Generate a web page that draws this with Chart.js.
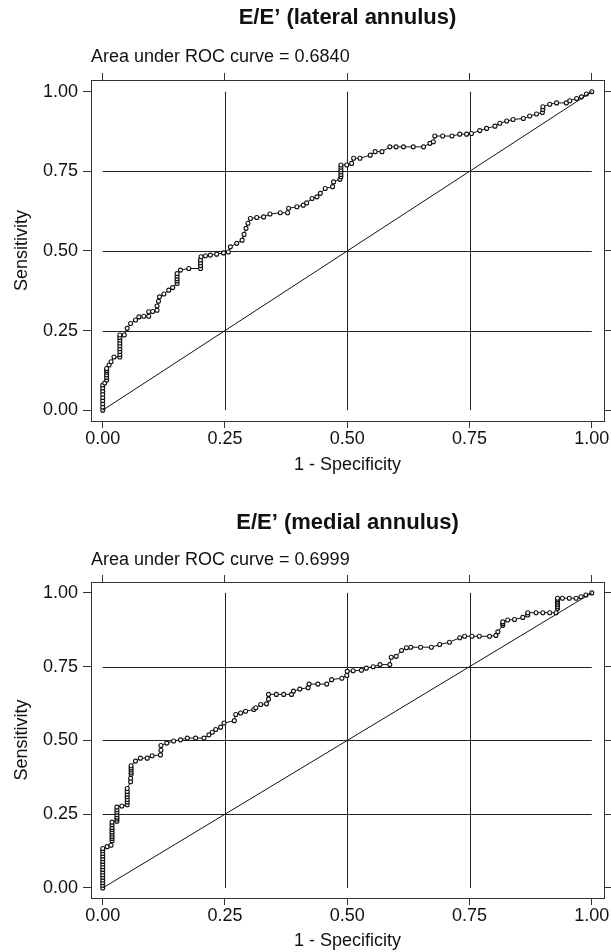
<!DOCTYPE html>
<html>
<head>
<meta charset="utf-8">
<script src="https://cdn.jsdelivr.net/npm/chart.js@4.4.1/dist/chart.umd.min.js"></script>
<style>
  html, body { margin: 0; padding: 0; background: #fff; overflow: hidden; }
  .box { position: absolute; left: 0; width: 611px; }
</style>
</head>
<body>
<div class="box" style="top:0;height:502px"><canvas id="rocLateral" width="611" height="502"></canvas></div>
<div class="box" style="top:502px;height:450px"><canvas id="rocMedial" width="611" height="450"></canvas></div>
<script>
// axis ticks and inner reference lines
const tickVals = [0, 0.25, 0.5, 0.75, 1];
const gridVals = [0.25, 0.5, 0.75];

// E/E' lateral annulus: 1 - specificity / sensitivity
const latFpr = [0, 0, 0, 0, 0, 0, 0, 0, 0, 0.004,
    0.008, 0.008, 0.008, 0.008, 0.008, 0.008, 0.013, 0.017, 0.023, 0.035,
    0.035, 0.035, 0.035, 0.035, 0.035, 0.035, 0.035, 0.035, 0.044, 0.05,
    0.057, 0.067, 0.074, 0.084, 0.094, 0.094, 0.102, 0.111, 0.111, 0.114,
    0.116, 0.125, 0.135, 0.143, 0.152, 0.152, 0.152, 0.152, 0.152, 0.159,
    0.176, 0.2, 0.2, 0.2, 0.2, 0.201, 0.21, 0.22, 0.233, 0.247,
    0.257, 0.261, 0.274, 0.285, 0.289, 0.293, 0.297, 0.302, 0.315, 0.329,
    0.342, 0.363, 0.378, 0.38, 0.397, 0.41, 0.417, 0.428, 0.438, 0.445,
    0.455, 0.47, 0.472, 0.485, 0.487, 0.487, 0.487, 0.487, 0.487, 0.487,
    0.499, 0.509, 0.513, 0.526, 0.547, 0.557, 0.571, 0.587, 0.6, 0.615,
    0.635, 0.656, 0.669, 0.676, 0.679, 0.695, 0.714, 0.73, 0.744, 0.754,
    0.771, 0.785, 0.802, 0.812, 0.826, 0.839, 0.86, 0.873, 0.887, 0.899,
    0.9, 0.9, 0.914, 0.928, 0.948, 0.955, 0.969, 0.979, 0.989, 1];
const latTpr = [0, 0.01, 0.02, 0.03, 0.04, 0.05, 0.06, 0.07, 0.079, 0.085,
    0.095, 0.103, 0.111, 0.119, 0.125, 0.131, 0.142, 0.152, 0.167, 0.167,
    0.175, 0.184, 0.193, 0.202, 0.211, 0.22, 0.228, 0.236, 0.236, 0.257,
    0.272, 0.283, 0.293, 0.295, 0.295, 0.309, 0.31, 0.314, 0.327, 0.342,
    0.356, 0.365, 0.377, 0.385, 0.398, 0.406, 0.413, 0.421, 0.429, 0.44,
    0.445, 0.445, 0.454, 0.463, 0.472, 0.482, 0.485, 0.487, 0.49, 0.494,
    0.497, 0.513, 0.524, 0.534, 0.552, 0.571, 0.587, 0.602, 0.605, 0.607,
    0.616, 0.62, 0.62, 0.634, 0.639, 0.644, 0.651, 0.665, 0.67, 0.681,
    0.696, 0.702, 0.717, 0.725, 0.733, 0.74, 0.748, 0.755, 0.763, 0.77,
    0.77, 0.775, 0.791, 0.791, 0.801, 0.812, 0.812, 0.827, 0.827, 0.827,
    0.827, 0.827, 0.838, 0.843, 0.861, 0.861, 0.861, 0.867, 0.867, 0.869,
    0.878, 0.885, 0.892, 0.901, 0.908, 0.913, 0.916, 0.924, 0.93, 0.935,
    0.944, 0.953, 0.961, 0.965, 0.965, 0.972, 0.979, 0.984, 0.993, 1];

// E/E' medial annulus
const medFpr = [0, 0, 0, 0, 0, 0, 0, 0, 0, 0,
    0, 0, 0, 0, 0, 0, 0.009, 0.017, 0.019, 0.019,
    0.019, 0.019, 0.019, 0.019, 0.019, 0.019, 0.019, 0.029, 0.029, 0.029,
    0.029, 0.029, 0.029, 0.029, 0.039, 0.05, 0.05, 0.05, 0.05, 0.05,
    0.05, 0.05, 0.057, 0.057, 0.058, 0.058, 0.058, 0.058, 0.058, 0.067,
    0.077, 0.091, 0.101, 0.118, 0.119, 0.119, 0.131, 0.145, 0.159, 0.173,
    0.19, 0.207, 0.217, 0.224, 0.231, 0.241, 0.248, 0.269, 0.272, 0.282,
    0.292, 0.309, 0.313, 0.323, 0.335, 0.339, 0.339, 0.355, 0.37, 0.386,
    0.39, 0.403, 0.42, 0.422, 0.44, 0.458, 0.468, 0.489, 0.499, 0.5,
    0.512, 0.529, 0.539, 0.553, 0.567, 0.587, 0.59, 0.6, 0.611, 0.621,
    0.63, 0.65, 0.672, 0.689, 0.709, 0.73, 0.74, 0.755, 0.77, 0.791,
    0.804, 0.808, 0.818, 0.818, 0.818, 0.828, 0.842, 0.859, 0.869, 0.869,
    0.886, 0.9, 0.914, 0.927, 0.93, 0.93, 0.93, 0.93, 0.93, 0.93,
    0.93, 0.94, 0.954, 0.968, 0.978, 0.988, 1];
const medTpr = [0, 0.009, 0.018, 0.027, 0.036, 0.045, 0.054, 0.063, 0.072, 0.081,
    0.09, 0.099, 0.108, 0.117, 0.126, 0.134, 0.14, 0.145, 0.16, 0.168,
    0.175, 0.183, 0.19, 0.198, 0.205, 0.214, 0.223, 0.226, 0.234, 0.24,
    0.248, 0.257, 0.265, 0.274, 0.278, 0.282, 0.291, 0.3, 0.309, 0.318,
    0.327, 0.337, 0.36, 0.372, 0.385, 0.392, 0.4, 0.407, 0.414, 0.43,
    0.44, 0.44, 0.448, 0.451, 0.467, 0.483, 0.491, 0.498, 0.502, 0.508,
    0.508, 0.508, 0.519, 0.528, 0.537, 0.545, 0.559, 0.567, 0.588, 0.593,
    0.599, 0.605, 0.611, 0.622, 0.624, 0.64, 0.656, 0.656, 0.656, 0.656,
    0.667, 0.674, 0.679, 0.691, 0.691, 0.691, 0.706, 0.711, 0.72, 0.734,
    0.736, 0.738, 0.745, 0.75, 0.757, 0.757, 0.782, 0.785, 0.805, 0.814,
    0.816, 0.816, 0.816, 0.825, 0.833, 0.848, 0.853, 0.853, 0.853, 0.853,
    0.856, 0.868, 0.89, 0.896, 0.902, 0.908, 0.91, 0.917, 0.925, 0.933,
    0.933, 0.933, 0.933, 0.933, 0.947, 0.953, 0.96, 0.966, 0.972, 0.977,
    0.982, 0.982, 0.982, 0.982, 0.987, 0.993, 1];

const ink = '#111';
const frame = '#333';
Chart.defaults.font.family = '"Liberation Sans", Arial, Helvetica, sans-serif';
Chart.defaults.color = ink;

// reference lines that stop at 0 and 1, like the original plot
const innerGrid = {
    id: 'innerGrid',
    beforeDatasetsDraw(chart) {
        const {ctx, scales: {x, y}} = chart;
        ctx.save();
        ctx.strokeStyle = '#222';
        ctx.lineWidth = 1;
        gridVals.forEach(v => {
            const px = Math.round(x.getPixelForValue(v)) + 0.5;
            const py = Math.round(y.getPixelForValue(v)) + 0.5;
            ctx.beginPath();
            ctx.moveTo(x.getPixelForValue(0), py);
            ctx.lineTo(x.getPixelForValue(1), py);
            ctx.moveTo(px, y.getPixelForValue(0));
            ctx.lineTo(px, y.getPixelForValue(1));
            ctx.stroke();
        });
        ctx.restore();
    }
};

function setTicks(scale) {
    scale.ticks = tickVals.map(v => ({value: v}));
}

function axis(pos, min, max, len, showLabels, extra) {
    return Object.assign({
        type: 'linear',
        position: pos,
        min: min,
        max: max,
        afterBuildTicks: setTicks,
        grid: {drawOnChartArea: false, drawTicks: true, tickLength: len, color: frame},
        border: {display: true, color: frame, width: 1},
        ticks: {
            display: showLabels,
            padding: pos === 'left' ? 5 : 0,
            font: {size: 18},
            color: ink,
            maxRotation: 0,
            callback: v => v.toFixed(2)
        }
    }, extra || {});
}

function rocChart(id, heading, auc, fpr, tpr, pad) {
    const curve = fpr.map((f, i) => ({x: f, y: tpr[i]}));
    const xMin = -0.024, xMax = 1.025, yMin = -0.034, yMax = 1.037;
    new Chart(document.getElementById(id), {
        type: 'scatter',
        data: {
            datasets: [
                {
                    data: [{x: 0, y: 0}, {x: 1, y: 1}],
                    showLine: true,
                    borderColor: ink,
                    borderWidth: 1,
                    pointRadius: 0
                },
                {
                    data: curve,
                    showLine: true,
                    borderColor: ink,
                    borderWidth: 1,
                    pointRadius: 2,
                    pointBorderWidth: 1.1,
                    pointBorderColor: ink,
                    pointBackgroundColor: '#fff'
                }
            ]
        },
        options: {
            responsive: false,
            animation: false,
            layout: {padding: {left: 0, right: 0, top: 0, bottom: 0}},
            plugins: {
                legend: {display: false},
                tooltip: {enabled: false},
                title: {
                    display: true,
                    text: heading,
                    fullSize: false,
                    color: ink,
                    font: {size: 22, weight: 'bold'},
                    padding: pad.title
                },
                subtitle: {
                    display: true,
                    text: 'Area under ROC curve = ' + auc,
                    fullSize: false,
                    align: 'start',
                    color: ink,
                    font: {size: 18},
                    padding: pad.sub
                }
            },
            scales: {
                x: axis('bottom', xMin, xMax, 7, true, {
                    title: {display: true, text: '1 - Specificity', color: ink, font: {size: 18}, padding: {top: 0, bottom: pad.xTitle}},
                    afterFit: s => { s.height = pad.xHeight; }
                }),
                x2: axis('top', xMin, xMax, 7, false),
                y: axis('left', yMin, yMax, 8, true, {
                    title: {display: true, text: 'Sensitivity', color: ink, font: {size: 18}, padding: {top: 11, bottom: 0}},
                    afterFit: s => { s.width = 91; }
                }),
                y2: axis('right', yMin, yMax, 7, false)
            }
        },
        plugins: [innerGrid]
    });
}

rocChart('rocLateral', 'E/E\u2019 (lateral annulus)', '0.6840', latFpr, latTpr,
    {title: {top: 5, bottom: 2}, sub: {top: 13.3, bottom: 4.7}, xTitle: 26, xHeight: 81});
rocChart('rocMedial', 'E/E\u2019 (medial annulus)', '0.6999', medFpr, medTpr,
    {title: {top: 8, bottom: 0}, sub: {top: 13.3, bottom: 3.7}, xTitle: 0, xHeight: 54});
</script>
</body>
</html>
